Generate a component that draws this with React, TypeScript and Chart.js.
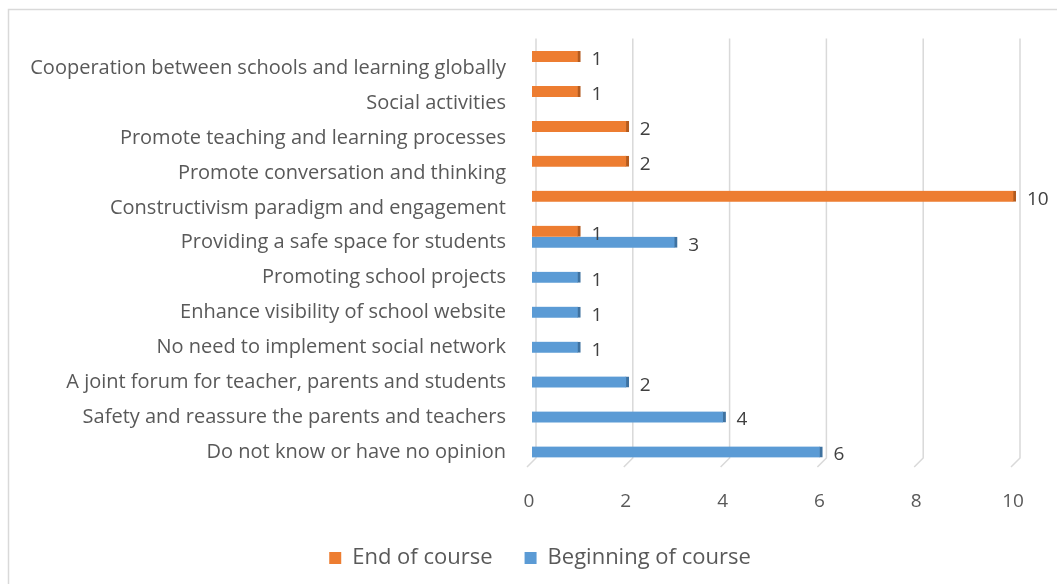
import React, { useEffect, useRef } from "react";
import { Chart, registerables } from "chart.js";

Chart.register(...registerables);

const categories = [
  "Cooperation between schools and learning globally",
  "Social activities",
  "Promote teaching and learning processes",
  "Promote conversation and thinking",
  "Constructivism paradigm and engagement",
  "Providing a safe space for students",
  "Promoting school projects",
  "Enhance visibility of school website",
  "No need to implement social network",
  "A joint forum for teacher, parents and students",
  "Safety and reassure the parents and teachers",
  "Do not know or have no opinion",
];

const endOfCourse = [1, 1, 2, 2, 10, 1, null, null, null, null, null, null];
const beginningOfCourse = [null, null, null, null, null, 3, 1, 1, 1, 2, 4, 6];

const seriesNames = ["End of course", "Beginning of course"];
const xTickValues = [0, 2, 4, 6, 8, 10];

const ORANGE = "#ED7D31";
const ORANGE_DARK = "#B35B1F";
const BLUE = "#5B9BD5";
const BLUE_DARK = "#3F72A0";
const TEXT = "#595959";
const FONT = "'Open Sans'";

const framePlugin = {
  id: "frame",
  beforeDraw(chart: any) {
    const ctx = chart.ctx;
    ctx.save();
    ctx.fillStyle = "#ffffff";
    ctx.fillRect(0, 0, chart.width, chart.height);
    ctx.strokeStyle = "#d9d9d9";
    ctx.lineWidth = 1.5;
    ctx.beginPath();
    ctx.moveTo(8.5, chart.height);
    ctx.lineTo(8.5, 9.5);
    ctx.lineTo(chart.width, 9.5);
    ctx.stroke();
    ctx.restore();
  },
};

const legendShiftPlugin = {
  id: "legendShift",
  afterLayout(chart: any) {
    if (chart.legend) {
      chart.legend.left += 32;
      chart.legend.right += 32;
    }
  },
};

const gridPlugin = {
  id: "grid3d",
  beforeDatasetsDraw(chart: any) {
    const ctx = chart.ctx;
    const xs = chart.scales.x;
    const { top, bottom } = chart.chartArea;
    ctx.save();
    ctx.strokeStyle = "#d9d9d9";
    ctx.lineWidth = 1.5;
    xTickValues.forEach((v) => {
      const x = xs.getPixelForValue(v);
      ctx.beginPath();
      ctx.moveTo(x + 4, top - 6);
      ctx.lineTo(x + 4, bottom - 6);
      ctx.lineTo(x - 5, bottom + 3);
      ctx.stroke();
    });
    ctx.restore();
  },
};

const labelPlugin = {
  id: "valueLabels",
  afterDatasetsDraw(chart: any) {
    const ctx = chart.ctx;
    ctx.save();
    ctx.fillStyle = "#404040";
    ctx.font = `19px ${FONT}`;
    ctx.textAlign = "left";
    ctx.textBaseline = "middle";
    chart.data.datasets.forEach((ds: any, di: number) => {
      const meta = chart.getDatasetMeta(di);
      meta.data.forEach((el: any, i: number) => {
        const v = ds.data[i];
        if (v === null || v === undefined) return;
        ctx.fillText(String(v), el.x + 11, el.y + 3);
      });
    });
    ctx.restore();
  },
};

export default function App() {
  const ref = useRef<HTMLCanvasElement | null>(null);

  useEffect(() => {
    if (!ref.current) return;
    const chart = new Chart(ref.current, {
      type: "bar",
      data: {
        labels: categories,
        datasets: [
          {
            label: seriesNames[0],
            data: endOfCourse,
            backgroundColor: ORANGE,
            borderColor: ORANGE_DARK,
            borderWidth: { top: 0, right: 3, bottom: 0, left: 0 },
            borderSkipped: "start",
            barThickness: 11,
          },
          {
            label: seriesNames[1],
            data: beginningOfCourse,
            backgroundColor: BLUE,
            borderColor: BLUE_DARK,
            borderWidth: { top: 0, right: 3, bottom: 0, left: 0 },
            borderSkipped: "start",
            barThickness: 11,
          },
        ],
      },
      options: {
        indexAxis: "y",
        responsive: false,
        animation: false,
        layout: { padding: { top: 44.5, right: 41, bottom: 5, left: 0 } },
        scales: {
          x: {
            min: 0,
            max: 10,
            afterFit: (s: any) => {
              s.height = 51;
            },
            ticks: {
              stepSize: 2,
              color: TEXT,
              font: { family: FONT, size: 19 },
              padding: 26,
              labelOffset: -3,
            },
            grid: { display: false, drawTicks: false },
            border: { display: false },
          },
          y: {
            afterFit: (s: any) => {
              s.width = 532;
            },
            ticks: {
              color: TEXT,
              font: { family: FONT, size: 20 },
              padding: 26,
              labelOffset: 6,
              autoSkip: false,
            },
            grid: { display: false, drawTicks: false },
            border: { display: false },
          },
        },
        plugins: {
          legend: {
            position: "bottom",
            labels: {
              boxWidth: 12,
              boxHeight: 12,
              padding: 32,
              color: TEXT,
              font: { family: FONT, size: 22 },
              generateLabels: (c: any) =>
                (Chart.defaults.plugins.legend.labels as any)
                  .generateLabels(c)
                  .map((l: any) => ({ ...l, lineWidth: 0, strokeStyle: l.fillStyle })),
            },
          },
          tooltip: { enabled: false },
        },
      },
      plugins: [framePlugin, legendShiftPlugin, gridPlugin, labelPlugin],
    });
    return () => chart.destroy();
  }, []);

  return (
    <div style={{ position: "fixed", left: 0, top: 0, width: 1057, height: 584 }}>
      <canvas ref={ref} width={1057} height={584} style={{ width: 1057, height: 584, display: "block" }} />
    </div>
  );
}
